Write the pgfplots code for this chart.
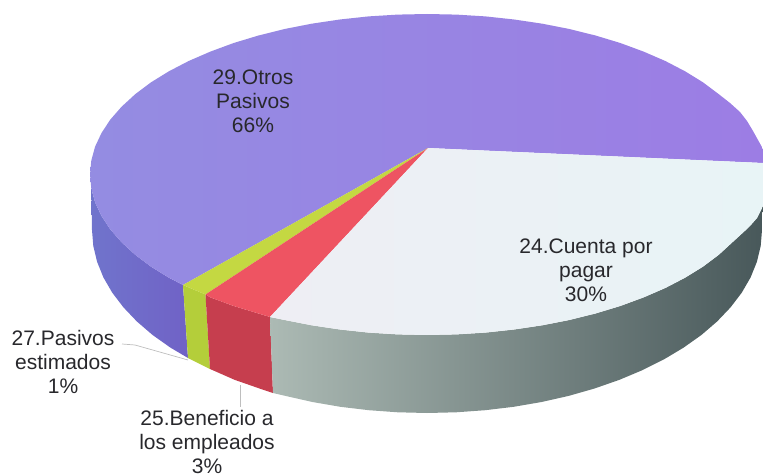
\documentclass[border=0pt]{standalone}
\usepackage{pgfplots}
\pgfplotsset{compat=1.18}
\usepackage{fontspec}
\setmainfont{Liberation Sans}
\definecolor{purpleL}{RGB}{148,140,226}
\definecolor{purpleM}{RGB}{163,135,232}
\definecolor{purpleR}{RGB}{156,125,228}
\definecolor{sideP1}{RGB}{112,116,204}
\definecolor{sideP2}{RGB}{112,98,198}
\definecolor{yellowT}{RGB}{196,216,66}
\definecolor{yellowS}{RGB}{180,206,58}
\definecolor{redT}{RGB}{238,84,98}
\definecolor{redS}{RGB}{198,62,78}
\definecolor{whiteL}{RGB}{238,238,244}
\definecolor{whiteR}{RGB}{232,244,246}
\definecolor{greyL}{RGB}{172,186,180}
\definecolor{greyM}{RGB}{112,130,130}
\definecolor{greyR}{RGB}{72,88,90}
\definecolor{lead}{RGB}{190,190,190}
\definecolor{txt}{RGB}{40,40,44}
\begin{document}
\begin{tikzpicture}[x=1pt,y=1pt]
\path[use as bounding box] (0,0) rectangle (763,476);
\begin{axis}[at={(0,0)},anchor=south west,scale only axis,width=763pt,height=476pt,
  xmin=0,xmax=763,ymin=0,ymax=476,y dir=reverse,hide axis,clip=false,
  every axis plot/.append style={mark=none,forget plot,draw=none}]
% side: 29. Otros Pasivos
\addplot[left color=sideP1,right color=sideP2] coordinates {
(91.3,188.5)(95.1,202.4)(101.5,216)(110.3,229.4)(121.6,242.3)(135.2,254.8)(150.9,266.6)(168.9,277.7)(183,285)
(188,358)(170.4,347.6)(152.6,335)(136.9,321.5)(123.4,307.3)(112.2,292.6)(103.4,277.4)(97.1,261.8)(93.3,246)(92,230)
} --cycle;
% side: 27. Pasivos estimados
\addplot[fill=yellowS] coordinates {(183,285)(205.5,294.5)(210,369)(188,358)} --cycle;
% side: 25. Beneficio
\addplot[fill=redS] coordinates {(205.5,294.5)(210.4,297.4)(233.7,306)(258.5,313.5)(270,317)(273,393)(259.5,388.5)(234.8,379.9)(210,369)} --cycle;
% side: 24. Cuenta por pagar
\addplot[left color=greyL,middle color=greyM,right color=greyR] coordinates {
(270,317)(284.6,320)(311.7,325.3)(339.8,329.5)(368.5,332.6)(397.6,334.4)(427,335)(456.4,334.4)(485.5,332.6)(514.2,329.5)(542.3,325.3)(569.4,320)(595.5,313.5)(620.3,306)(643.6,297.4)(665.3,288)(685.1,277.7)(703.1,266.6)(718.8,254.8)(732.4,242.3)(743.7,232)(750,226)(757,218)(763,206)
(762,230)(760.7,246)(756.9,261.8)(750.6,277.4)(741.8,292.6)(730.6,307.3)(717.1,321.5)(701.4,335)(683.6,347.6)(663.9,359.4)(642.3,370.2)(619.2,379.9)(594.5,388.5)(568.6,395.9)(541.6,402)(513.7,406.8)(485.2,410.2)(456.2,412.3)(427,413)(397.8,412.3)(368.8,410.2)(340.3,406.8)(312.4,402)(285.4,395.9)(273,393)
} --cycle;
% top: 29. Otros Pasivos (66%)
\addplot[left color=purpleL,middle color=purpleM,right color=purpleR] coordinates {
(428,148)(183,285)(168.9,277.7)(150.9,266.6)(135.2,254.8)(121.6,242.3)(110.3,229.4)(101.5,216)(95.1,202.4)(91.3,188.5)(90,174.5)(91.3,160.5)(95.1,146.6)(101.5,133)(110.3,119.6)(121.6,106.7)(135.2,94.2)(150.9,82.4)(168.9,71.3)(188.7,61)(210.4,51.6)(233.7,43)(258.5,35.5)(284.6,29)(311.7,23.7)(339.8,19.5)(368.5,16.4)(397.6,14.6)(427,14)(456.4,14.6)(485.5,16.4)(514.2,19.5)(542.3,23.7)(569.4,29)(595.5,35.5)(620.3,43)(643.6,51.6)(665.3,61)(685.1,71.3)(703.1,82.4)(718.8,94.2)(730,103)(740,112)(747,121)(753,131)(758,140)(763,149)(763,163)
} --cycle;
% top: 27. Pasivos estimados (1%)
\addplot[fill=yellowT] coordinates {(428,148)(205.5,294.5)(183,285)} --cycle;
% top: 25. Beneficio a los empleados (3%)
\addplot[fill=redT] coordinates {(428,148)(270,317)(258.5,313.5)(233.7,306)(210.4,297.4)(205.5,294.5)} --cycle;
% top: 24. Cuenta por pagar (30%)
\addplot[left color=whiteL,right color=whiteR] coordinates {
(428,148)(763,163)(763,206)(757,218)(750,226)(743.7,232)(732.4,242.3)(718.8,254.8)(703.1,266.6)(685.1,277.7)(665.3,288)(643.6,297.4)(620.3,306)(595.5,313.5)(569.4,320)(542.3,325.3)(514.2,329.5)(485.5,332.6)(456.4,334.4)(427,335)(397.6,334.4)(368.5,332.6)(339.8,329.5)(311.7,325.3)(284.6,320)(270,317)
} --cycle;
% leader lines
\addplot[draw=lead,line width=0.7pt] coordinates {(122,344)(135,345)(188,360)};
\addplot[draw=lead,line width=0.7pt] coordinates {(240,385)(240,407)};
% labels
\tikzset{lab/.style={align=center,inner sep=0pt,text=txt,font=\fontsize{21}{24}\selectfont,anchor=center}}
\node[lab] at (axis cs:253,101) {29.Otros\\Pasivos\\66\%};
\node[lab] at (axis cs:586,270.5) {24.Cuenta por\\pagar\\30\%};
\node[lab] at (axis cs:63,361.5) {27.Pasivos\\estimados\\1\%};
\node[lab] at (axis cs:207,441.5) {25.Beneficio a\\los empleados\\3\%};
\end{axis}
\end{tikzpicture}
\end{document}
